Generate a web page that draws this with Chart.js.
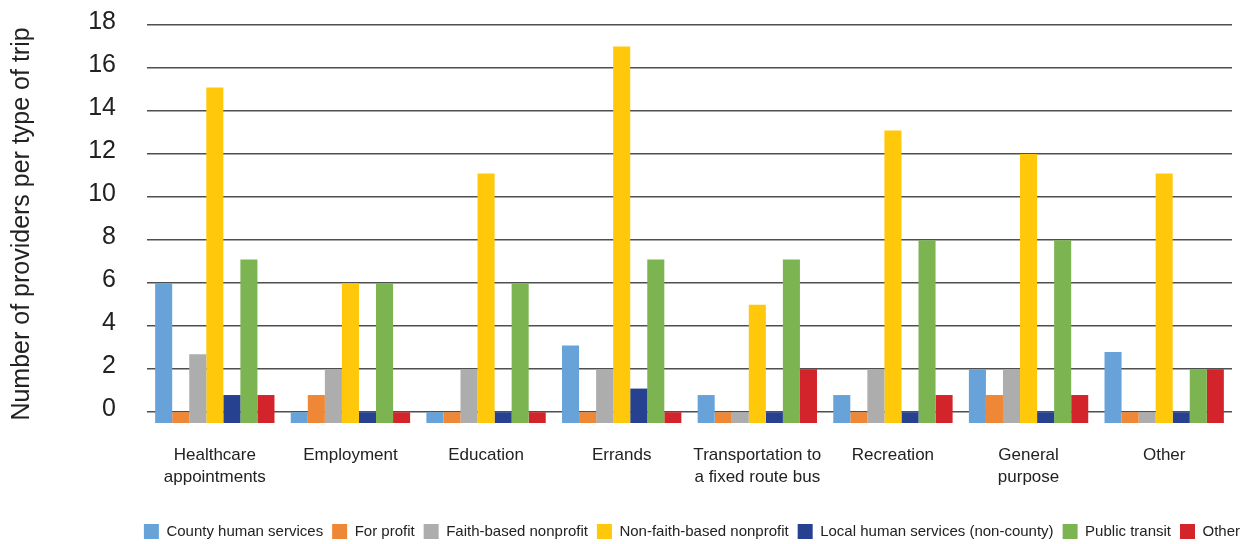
<!DOCTYPE html>
<html lang="en">
  <head>
    <meta charset="utf-8">
    <title>Providers per type of trip</title>
    <style>
      html, body {
        margin: 0;
        padding: 0;
        background: #ffffff;
      }
      .chart-box {
        width: 1249px;
        height: 544px;
      }
    </style>
    <script src="https://cdn.jsdelivr.net/npm/chart.js@4.4.4/dist/chart.umd.min.js"></script>
  </head>
  <body>
    <div class="chart-box">
      <canvas id="trip-chart"></canvas>
    </div>
    <script>
      const categories = [
        ['Healthcare', 'appointments'],
        'Employment',
        'Education',
        'Errands',
        ['Transportation to', 'a fixed route bus'],
        'Recreation',
        ['General', 'purpose'],
        'Other'
      ];
      const county_human_services = [6, 0, 0, 3.1, 0.8, 0.8, 2, 2.8];
      const for_profit = [0, 0.8, 0, 0, 0, 0, 0.8, 0];
      const faith_based = [2.7, 2, 2, 2, 0, 2, 2, 0];
      const non_faith_based = [15.1, 6, 11.1, 17, 5, 13.1, 12, 11.1];
      const local_human_services = [0.8, 0, 0, 1.1, 0, 0, 0, 0];
      const public_transit = [7.1, 6, 6, 7.1, 7.1, 8, 8, 2];
      const other_providers = [0.8, 0, 0, 0, 2, 0.8, 0.8, 2];
      const y_ticks = [0, 2, 4, 6, 8, 10, 12, 14, 16, 18];

      const font_family = '"Liberation Sans", Arial, sans-serif';

      function makeSet(label, data, colour) {
        return {
          label: label,
          data: data,
          backgroundColor: colour,
          borderWidth: 0,
          base: -0.5,
          barPercentage: 1.0,
          categoryPercentage: 0.88
        };
      }

      const chart = new Chart(document.getElementById('trip-chart'), {
        type: 'bar',
        data: {
          labels: categories,
          datasets: [
            makeSet('County human services', county_human_services, '#67a3d9'),
            makeSet('For profit', for_profit, '#ee8736'),
            makeSet('Faith-based nonprofit', faith_based, '#adadad'),
            makeSet('Non-faith-based nonprofit', non_faith_based, '#ffc80a'),
            makeSet('Local human services (non-county)', local_human_services, '#25418f'),
            makeSet('Public transit', public_transit, '#7cb452'),
            makeSet('Other', other_providers, '#d3242b')
          ]
        },
        options: {
          responsive: true,
          maintainAspectRatio: false,
          animation: false,
          layout: {
            padding: {top: 25, right: 0, bottom: -5, left: 0}
          },
          plugins: {
            tooltip: {enabled: false},
            legend: {
              position: 'bottom',
              align: 'end',
              labels: {
                boxWidth: 15,
                boxHeight: 15,
                padding: 9,
                color: '#222222',
                font: {family: font_family, size: 15}
              }
            }
          },
          scales: {
            x: {
              grid: {display: false, drawTicks: false},
              border: {display: false},
              ticks: {
                color: '#222222',
                padding: 22,
                maxRotation: 0,
                autoSkip: false,
                font: {family: font_family, size: 17, lineHeight: 1.25}
              },
              afterFit: function(axis) {
                axis.height = 92;
              }
            },
            y: {
              min: -0.5,
              max: 18,
              grid: {color: '#4f4f4f', lineWidth: 1.5, drawTicks: false},
              border: {display: false},
              ticks: {
                color: '#222222',
                padding: 31,
                labelOffset: -3,
                font: {family: font_family, size: 25}
              },
              afterBuildTicks: function(axis) {
                axis.ticks = y_ticks.map(v => ({value: v}));
              },
              afterFit: function(axis) {
                axis.width = 147;
                axis.paddingTop = 10;
                axis.paddingBottom = 10;
              },
              title: {
                display: true,
                text: 'Number of providers per type of trip',
                color: '#222222',
                padding: {top: 7, bottom: 0},
                font: {family: font_family, size: 25}
              }
            },
            gap: {
              position: 'right',
              display: true,
              grid: {display: false, drawTicks: false},
              border: {display: false},
              ticks: {display: false},
              afterFit: function(axis) {
                axis.width = 17;
              }
            }
          }
        }
      });
    </script>
  </body>
</html>
